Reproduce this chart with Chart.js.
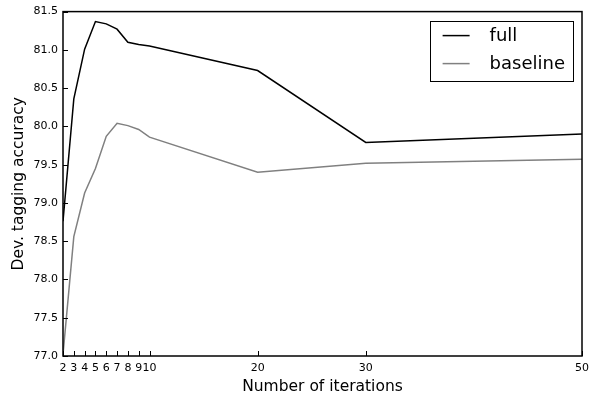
<!DOCTYPE html>
<html>
<head>
<meta charset="utf-8">
<script src="https://cdn.jsdelivr.net/npm/chart.js@4.4.1/dist/chart.umd.min.js"></script>
<style>
  html, body { margin: 0; padding: 0; background: #fff; }
  #wrap { width: 592px; height: 396px; position: relative; }
</style>
</head>
<body>
<div id="wrap"><canvas id="accChart"></canvas></div>
<script>
// data
const iterations = [2, 3, 4, 5, 6, 7, 8, 9, 10, 20, 30, 50];
const fullAcc = [78.76, 80.36, 81.01, 81.37, 81.34, 81.27, 81.10, 81.07, 81.05, 80.73, 79.79, 79.90];
const baselineAcc = [77.02, 78.56, 79.13, 79.45, 79.87, 80.04, 80.01, 79.96, 79.86, 79.40, 79.52, 79.57];
const xTickValues = [2, 3, 4, 5, 6, 7, 8, 9, 10, 20, 30, 50];

const FONT = 'DejaVu Sans';

function toPoints(xs, ys) {
    return xs.map((x, i) => ({ x: x, y: ys[i] }));
}

// frame + inward tick marks, like the old matplotlib style
const framePlugin = {
    id: 'frame',
    afterDraw(chart) {
        const ctx = chart.ctx;
        const area = chart.chartArea;
        const xs = chart.scales.x;
        const ys = chart.scales.y;
        ctx.save();
        ctx.strokeStyle = '#000';
        ctx.lineWidth = 1;
        xs.ticks.forEach(t => {
            const px = Math.round(xs.getPixelForValue(t.value)) + 0.5;
            ctx.beginPath();
            ctx.moveTo(px, area.bottom);
            ctx.lineTo(px, area.bottom - 5);
            ctx.stroke();
        });
        ys.ticks.forEach(t => {
            const py = Math.round(ys.getPixelForValue(t.value)) + 0.5;
            ctx.beginPath();
            ctx.moveTo(area.left, py);
            ctx.lineTo(area.left + 5, py);
            ctx.stroke();
        });
        ctx.lineWidth = 1.5;
        ctx.strokeRect(area.left, area.top, area.right - area.left, area.bottom - area.top);
        ctx.restore();
    }
};

// legend box inside the upper right corner
const boxLegendPlugin = {
    id: 'boxLegend',
    afterDraw(chart) {
        const ctx = chart.ctx;
        const area = chart.chartArea;
        const sets = chart.data.datasets;
        ctx.save();
        ctx.font = '18px "' + FONT + '"';
        const textW = Math.max(...sets.map(d => ctx.measureText(d.label).width));
        const rowH = 28;
        const w = 13 + 27 + 20 + textW + 8;
        const h = rowH * sets.length + 4;
        const right = area.right - 9;
        const top = area.top + 9;
        const left = right - w;
        ctx.fillStyle = '#fff';
        ctx.fillRect(left, top, w, h);
        ctx.strokeStyle = '#000';
        ctx.lineWidth = 1;
        ctx.strokeRect(Math.round(left) + 0.5, Math.round(top) + 0.5, Math.round(w), Math.round(h));
        sets.forEach((d, i) => {
            const cy = top + 15 + i * rowH;
            ctx.strokeStyle = d.borderColor;
            ctx.lineWidth = d.borderWidth;
            ctx.beginPath();
            ctx.moveTo(left + 13, cy);
            ctx.lineTo(left + 40, cy);
            ctx.stroke();
            ctx.fillStyle = '#000';
            ctx.textBaseline = 'middle';
            ctx.fillText(d.label, left + 60, cy + 1);
        });
        ctx.restore();
    }
};

const ctx = document.getElementById('accChart').getContext('2d');
const chart = new Chart(ctx, {
    type: 'line',
    data: {
        datasets: [
            {
                label: 'full',
                data: toPoints(iterations, fullAcc),
                borderColor: '#000000',
                borderWidth: 1.5,
                pointRadius: 0,
                tension: 0,
                fill: false
            },
            {
                label: 'baseline',
                data: toPoints(iterations, baselineAcc),
                borderColor: '#808080',
                borderWidth: 1.5,
                pointRadius: 0,
                tension: 0,
                fill: false
            }
        ]
    },
    options: {
        responsive: true,
        maintainAspectRatio: false,
        animation: false,
        layout: {
            padding: { left: 0, top: 11, right: 10, bottom: 0 }
        },
        scales: {
            x: {
                type: 'linear',
                min: 2,
                max: 50,
                afterBuildTicks: scale => {
                    scale.ticks = xTickValues.map(v => ({ value: v }));
                },
                afterFit: scale => {
                    scale.height = 40;
                    scale.paddingLeft = 0;
                    scale.paddingRight = 0;
                },
                grid: { display: false, drawTicks: false },
                border: { display: false },
                ticks: {
                    autoSkip: false,
                    maxRotation: 0,
                    padding: 6,
                    color: '#000',
                    font: { family: FONT, size: 11 },
                    callback: v => String(v)
                },
                title: {
                    display: true,
                    text: 'Number of iterations',
                    color: '#000',
                    font: { family: FONT, size: 15.5 },
                    padding: { top: 0, bottom: 0 }
                }
            },
            y: {
                min: 77,
                max: 81.5,
                afterFit: scale => { scale.width = 63; },
                grid: { display: false, drawTicks: false },
                border: { display: false },
                ticks: {
                    stepSize: 0.5,
                    autoSkip: false,
                    padding: 5,
                    color: '#000',
                    font: { family: FONT, size: 11 },
                    callback: v => Number(v).toFixed(1)
                },
                title: {
                    display: true,
                    text: 'Dev. tagging accuracy',
                    color: '#000',
                    font: { family: FONT, size: 15.5 },
                    padding: { top: 10, bottom: 0 }
                }
            }
        },
        plugins: {
            legend: { display: false },
            tooltip: { enabled: false }
        }
    },
    plugins: [framePlugin, boxLegendPlugin]
});
</script>
</body>
</html>
